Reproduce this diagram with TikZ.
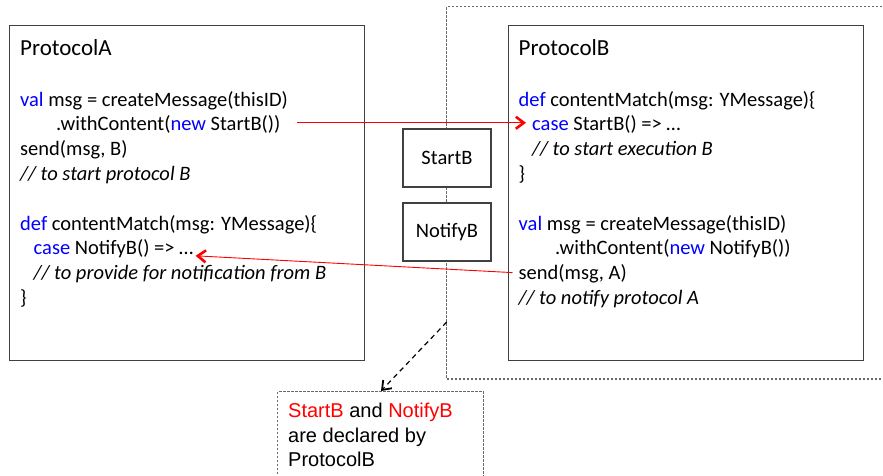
\documentclass[tikz,border=0pt]{standalone}
\usepackage{fontspec}
\setmainfont{Carlito}
\newfontfamily\notefont{Liberation Sans}
\usetikzlibrary{arrows.meta}
\definecolor{kwblue}{RGB}{0,0,255}
\definecolor{msgred}{RGB}{255,0,0}
\definecolor{framegray}{RGB}{64,64,64}
\definecolor{dotgray}{RGB}{105,105,105}
\newcommand{\kw}[1]{\textcolor{kwblue}{#1}}
\newcommand{\hl}[1]{\textcolor{msgred}{#1}}
\begin{document}
\begin{tikzpicture}[x=1pt,y=-1pt,
  codefont/.style={font=\fontsize{20.5}{24.75}\selectfont},
  codeline/.style={codefont, anchor=base west, inner sep=0pt},
  commentline/.style={codeline, font=\fontsize{20.5}{24.75}\selectfont\itshape},
  protoname/.style={anchor=base west, inner sep=0pt, font=\fontsize{23}{28}\selectfont},
  protobox/.style={draw=framegray, line width=1.2pt, anchor=north west, minimum width=355pt, minimum height=335pt, inner sep=0pt},
  msgbox/.style={draw=framegray, line width=1.2pt, fill=white, minimum width=88pt, minimum height=58pt, inner sep=0pt, codefont},
  scopeline/.style={draw=dotgray, line width=1.2pt, dash pattern=on 2.5pt off 1.5pt},
  notebox/.style={scopeline, anchor=north west, minimum width=206pt, minimum height=100pt, inner sep=0pt},
  noteline/.style={anchor=base west, inner sep=0pt, font=\notefont\fontsize{20}{25}\selectfont},
  msgarrow/.style={draw=msgred, line width=0.9pt, -{Straight Barb[length=8pt,width=12pt,line width=2.6pt]}},
  notearrow/.style={draw=black, line width=1.2pt, dash pattern=on 5pt off 4pt, -{Straight Barb[length=8pt,width=12pt,line width=1.8pt]}}
]
\clip (0,0) rectangle (883,475);

% scope of ProtocolB (open to the right)
\draw[scopeline] (890,6.5) -- (446.7,6.5) -- (446.7,379) -- (890,379);
\coordinate (tap) at (446.7,322);

% protocol boxes
\node[protobox] (boxA) at (9,25) {};
\node[protobox] (boxB) at (508,25) {};

% message types on the scope border
\node[msgbox] (startB) at (447,158) {StartB};
\node[msgbox] (notifyB) at (447,232) {NotifyB};

% ProtocolA code
\node[protoname] (pa) at (20,55) {ProtocolA};
\node[codeline] (a1) at (20,106) {\kw{val} msg = createMessage(thisID)};
\node[codeline] (a2) at (56,130.8) {.withContent(\kw{new} StartB())};
\node[codeline] (a3) at (20,155.6) {send(msg, B)};
\node[commentline] (a4) at (20,180.4) {// to start protocol B};
\node[codeline] (a5) at (20,230) {\kw{def} contentMatch(msg: YMessage)\{};
\node[codeline] (a6) at (33.5,254.8) {\kw{case} NotifyB() => …};
\node[commentline] (a7) at (33.5,279.6) {// to provide for notification from B};
\node[codeline] (a8) at (20,304.4) {\}};

% ProtocolB code
\node[protoname] (pb) at (518.5,55) {ProtocolB};
\node[codeline] (b1) at (518.5,106) {\kw{def} contentMatch(msg: YMessage)\{};
\node[codeline] (b2) at (532,130.8) {\kw{case} StartB() => …};
\node[commentline] (b3) at (532,155.6) {// to start execution B};
\node[codeline] (b4) at (518.5,180.4) {\}};
\node[codeline] (b5) at (518.5,230) {\kw{val} msg = createMessage(thisID)};
\node[codeline] (b6) at (555,254.8) {.withContent(\kw{new} NotifyB())};
\node[codeline] (b7) at (518.5,279.6) {send(msg, A)};
\node[commentline] (b8) at (518.5,304.4) {// to notify protocol A};

% message flow
\draw[msgarrow] ([shift={(16,-8)}]a2.base east) -- ([shift={(-6,-8)}]b2.base west);
\draw[msgarrow] ([shift={(-6,-7)}]b7.base west) -- ([shift={(2,1)}]a6.base east);

% note on where the messages are declared
\node[notebox] (note) at (277,391) {};
\node[noteline] (n1) at (288,417.3) {\hl{StartB} and \hl{NotifyB}};
\node[noteline] (n2) at (288,442) {are declared by};
\node[noteline] (n3) at (288,466.7) {ProtocolB};
\draw[notearrow] (tap) -- ([xshift=104pt]note.north west);
\end{tikzpicture}
\end{document}
